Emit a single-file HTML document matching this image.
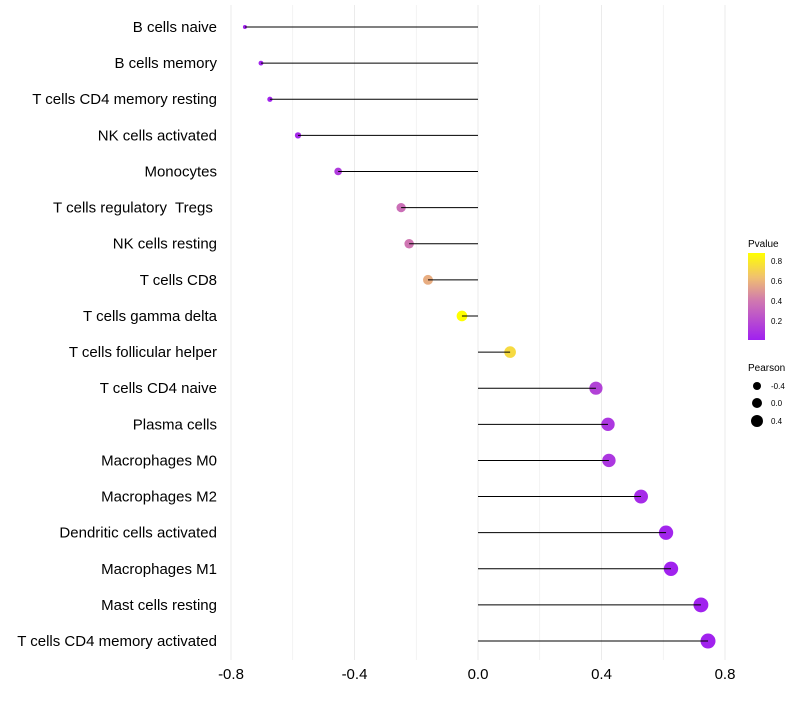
<!DOCTYPE html>
<html><head><meta charset="utf-8"><style>
body{margin:0;background:#fff;font-family:"Liberation Sans",sans-serif}
svg text{font-family:"Liberation Sans",sans-serif}
</style></head><body>
<svg id="chart" width="800" height="700">
<defs><linearGradient id="pg" x1="0" y1="1" x2="0" y2="0">
<stop offset="0" stop-color="#a020f0"/><stop offset="0.45" stop-color="#d078b0"/><stop offset="0.72" stop-color="#f0c070"/><stop offset="1" stop-color="#ffff00"/>
</linearGradient></defs>
<g id="grid"></g><g id="marks"></g><g id="labels"></g>
<g>
<text x="748" y="247" font-size="10" fill="#000">Pvalue</text>
<rect x="748" y="253" width="17" height="87" fill="url(#pg)"/>
<text x="771" y="264" font-size="8">0.8</text><text x="771" y="284" font-size="8">0.6</text>
<text x="771" y="304" font-size="8">0.4</text><text x="771" y="324" font-size="8">0.2</text>
<text x="748" y="371" font-size="10">Pearson</text>
<circle cx="757" cy="386" r="4" fill="#000"/><text x="771" y="389" font-size="8">-0.4</text>
<circle cx="757" cy="403" r="5" fill="#000"/><text x="771" y="406" font-size="8">0.0</text>
<circle cx="757" cy="421" r="6" fill="#000"/><text x="771" y="424" font-size="8">0.4</text>
</g>
</svg>
<script>
const categories=["B cells naive","B cells memory","T cells CD4 memory resting","NK cells activated","Monocytes","T cells regulatory  Tregs ","NK cells resting","T cells CD8","T cells gamma delta","T cells follicular helper","T cells CD4 naive","Plasma cells","Macrophages M0","Macrophages M2","Dendritic cells activated","Macrophages M1","Mast cells resting","T cells CD4 memory activated"];
const pearson=[-0.755,-0.703,-0.674,-0.583,-0.453,-0.249,-0.223,-0.162,-0.052,0.104,0.382,0.421,0.424,0.528,0.609,0.625,0.722,0.745];
const pvalues=[0.01,0.02,0.02,0.04,0.12,0.35,0.38,0.56,0.86,0.72,0.15,0.1,0.1,0.05,0.02,0.01,0.01,0.01];
const ticks=[-0.8,-0.4,0,0.4,0.8];
const NS="http://www.w3.org/2000/svg";
const x=v=>478+v*308.75;
const y=i=>27+i*36.12;
const rad=v=>Math.sqrt(Math.max(2,30.2+34.7*v));
function lerp(a,b,t){return a.map((c,i)=>Math.round(c+(b[i]-c)*t));}
function color(p){const s=[[0,[160,32,240]],[0.39,[208,120,176]],[0.62,[240,192,112]],[0.86,[255,255,0]]];
p=Math.max(0,Math.min(0.86,p));for(let k=1;k<s.length;k++){if(p<=s[k][0]){const t=(p-s[k-1][0])/(s[k][0]-s[k-1][0]);const c=lerp(s[k-1][1],s[k][1],t);return `rgb(${c})`;}}return "rgb(255,255,0)";}
function mk(tag,at,parent){const e=document.createElementNS(NS,tag);for(const k in at)e.setAttribute(k,at[k]);document.getElementById(parent).appendChild(e);return e;}
for(let v=-0.8;v<=0.81;v+=0.2){const g=mk("line",{x1:x(v),x2:x(v),y1:5,y2:660,stroke:"#ebebeb","stroke-width":Math.abs(Math.round(v*10))%4==0?1:0.6},"grid");

}
ticks.forEach(t=>{const e=mk("text",{x:x(t),y:679,"font-size":15,"text-anchor":"middle",fill:"#000"},"labels");e.textContent=t==0?"0.0":t.toFixed(1);

});
categories.forEach((c,i)=>{const t=mk("text",{x:217,y:y(i)+5,"font-size":15,"text-anchor":"end",fill:"#000",style:"white-space:pre"},"labels");t.textContent=c;


const p=mk("circle",{cx:x(pearson[i]),cy:y(i),r:rad(pearson[i]),fill:color(pvalues[i])},"marks");


const l=mk("line",{x1:x(0),x2:x(pearson[i]),y1:y(i),y2:y(i),stroke:"#000","stroke-width":1},"marks");

});
</script>
</body></html>
